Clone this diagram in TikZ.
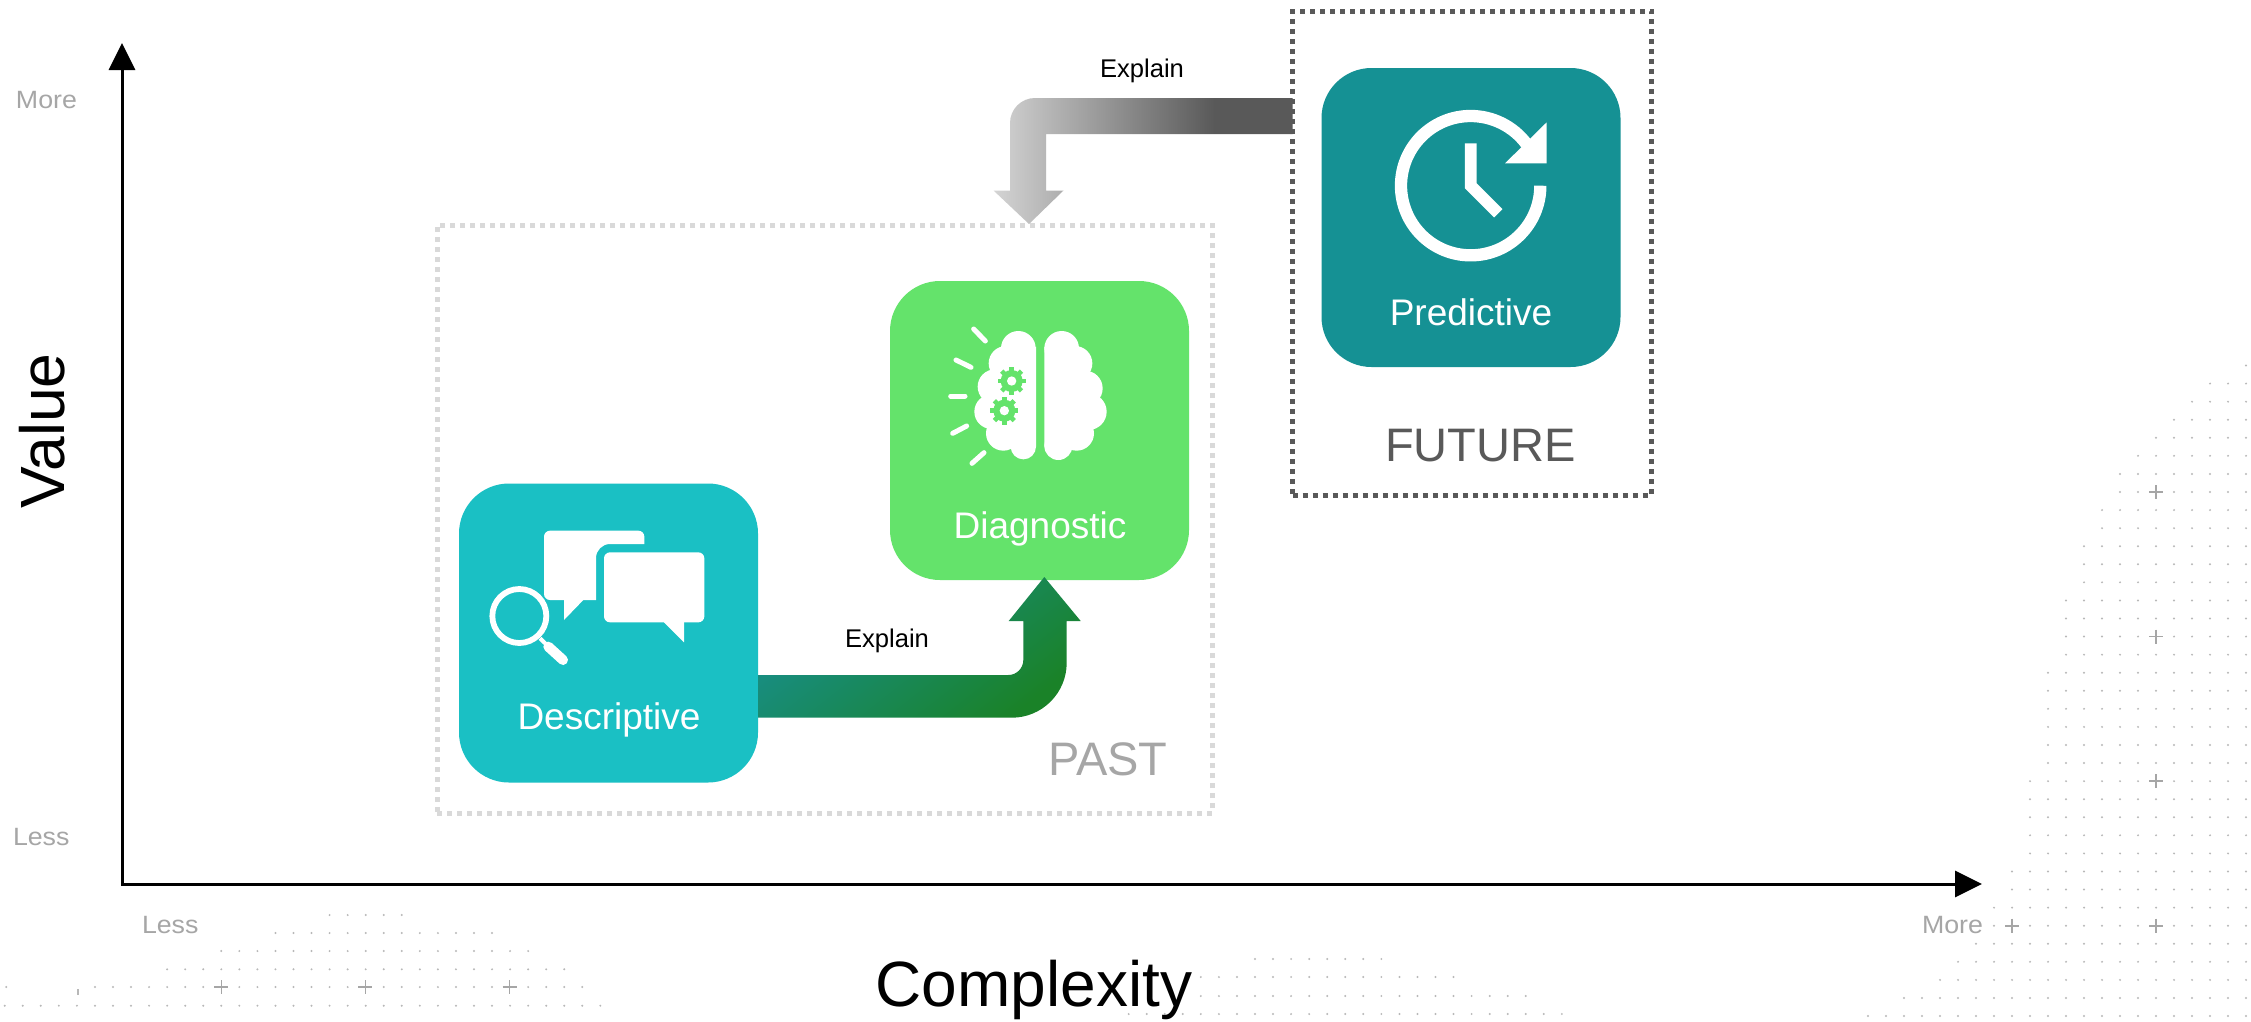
\documentclass[tikz,border=0pt]{standalone}
\usepackage{fontspec}
\setmainfont{Liberation Sans}
\usetikzlibrary{arrows.meta,calc}
\definecolor{descc}{HTML}{1AC0C4}
\definecolor{diagc}{HTML}{64E36B}
\definecolor{predc}{HTML}{159194}
\definecolor{lightg}{HTML}{A6A6A6}
\definecolor{pastd}{HTML}{D9D9D9}
\definecolor{futd}{HTML}{595959}
\definecolor{dotc}{HTML}{B8B8B8}
\definecolor{tealA}{HTML}{178F8F}
\definecolor{greenB}{HTML}{1A8228}
\definecolor{grayA}{HTML}{D4D4D4}
\definecolor{grayB}{HTML}{595959}
\pgfdeclarehorizontalshading{greenband}{100bp}{color(0bp)=(tealA); color(25bp)=(tealA); color(75bp)=(greenB); color(100bp)=(greenB)}
\pgfdeclarehorizontalshading{grayband}{100bp}{color(0bp)=(grayA); color(25bp)=(grayA); color(62bp)=(grayB); color(100bp)=(grayB)}
\newcommand\fsz[1]{\fontsize{#1}{#1}\selectfont}
\newcommand\gearicon[2]{%
  \foreach \a in {0,45,90,135}{\fill[diagc,rotate around={\a:(#1,#2)}] (#1-7,#2-42) rectangle (#1+7,#2+42);}
  \fill[diagc] (#1,#2) circle[radius=33pt];
  \fill[white] (#1,#2) circle[radius=14pt];}
\tikzset{
  x=1pt,y=-1pt,
  tile/.style={draw=none,minimum width=299pt,minimum height=299pt,inner sep=0pt,outer sep=0pt,rounded corners=50pt},
  tiletext/.style={text=white,anchor=base,inner sep=0pt,outer sep=0pt,font=\fsz{37}},
  zone/.style={minimum width=#1,inner sep=0pt,outer sep=0pt,line width=5pt,dash pattern=on 5pt off 5pt},
  axis/.style={line width=3pt,{Triangle[length=27pt,width=26pt]}-{Triangle[length=27pt,width=26pt]}},
  small/.style={text=lightg,inner sep=0pt,outer sep=0pt,font=\fsz{25},xscale=1.07},
  explain/.style={text=black,anchor=base,inner sep=0pt,outer sep=0pt,font=\fsz{25.6}},
  bigtxt/.style={text=black,inner sep=0pt,outer sep=0pt,font=\fsz{62.5}},
  dot/.style={fill=dotc},
  crossmark/.style={draw=lightg,line width=1.6pt},
  ray/.style={draw=white,line width=5pt,line cap=round},
}
\newcommand\dotat[2]{\fill[dot] (#1,#2) circle[radius=1.1pt];}
\newcommand\crossat[2]{\draw[crossmark] (#1-7,#2) -- (#1+7,#2) (#1,#2-7) -- (#1,#2+7);}
\begin{document}
\begin{tikzpicture}
\useasboundingbox (0,0) rectangle (2251,1021);
\fill[white] (0,0) rectangle (2251,1021);
% ---- dot fields
\foreach \m/\k in {-7/5,-6/3,-5/2,-4/1,-3/0,-2/-1,-1/-2,0/-2,1/-3,2/-3,3/-4,4/-4,5/-4,6/-5,7/-5,8/-5,9/-5,10/-6,11/-6,12/-6,13/-6,14/-6,15/-6,16/-7,17/-7,18/-7,19/-7,20/-7,21/-8,22/-8,23/-9,24/-9,25/-10,26/-11,27/-12,28/-14,29/-16}{
  \foreach \c in {\k,...,5}{\dotat{2156+18*\c}{492+18.07*\m}}}
\foreach \yy in {492,636.6,781.2,925.7}{\crossat{2156}{\yy}}
\crossat{2012}{925.7}
\foreach \yy/\a/\b in {915/6/10,933/3/15,951/0/17,969.3/-3/19,987/-7/20,1005.7/-12/21}{
  \foreach \c in {\a,...,\b}{\dotat{221.3+18.05*\c}{\yy}}}
\dotat{6.2}{987}
\draw[dotc,line width=1.2pt] (78,989) -- (78,995);
\foreach \xx in {221.3,365.4,509.6}{\crossat{\xx}{987}}
\foreach \yy/\a/\b in {959/0/7,977/-3/11,996/-3/15,1014/-7/17}{
  \foreach \c in {\a,...,\b}{\dotat{1255+18.05*\c}{\yy}}}
% ---- axes
\coordinate (origin) at (122,884);
\coordinate (xend) at (1982,884);
\coordinate (yend) at (122,43);
\draw[axis] (yend) -- (origin) -- (xend);
\node[small,anchor=base west] (lessx) at (142,933) {Less};
\node[small,anchor=base east] (morex) at (1983,933) {More};
\node[small,anchor=west] (morey) at (16,100) {More};
\node[small,anchor=west] (lessy) at (13,837) {Less};
\node[bigtxt,rotate=90] (valuelab) at (42,431) {Value};
\node[bigtxt,anchor=base,font=\fsz{64}] (complab) at (1034,1006) {Complexity};
% ---- zones and tiles
\node[zone=775pt,draw=pastd,minimum height=588pt] (pastbox) at (824.5,519) {};
\node[tile,fill=descc] (desc) at (608.5,633) {};
\node[tile,fill=diagc] (diag) at (1039.5,430.5) {};
\node[tile,fill=predc] (pred) at (1471,217.5) {};
\node[tiletext] (desclab) at (609,729) {Descriptive};
\node[tiletext] (diaglab) at (1040,538) {Diagnostic};
\node[tiletext] (predlab) at (1471,325) {Predictive};
\node[anchor=base,text=lightg,inner sep=0pt,font=\fsz{47}] (pastlab) at (1108,775) {PAST};
% ---- block arrow 1
\coordinate (a1a) at ($(desc.east)+(0,42)$);
\coordinate (a1b) at ($(desc.east)+(0,84.7)$);
\coordinate (a1t) at ($(diag.south)+(4.8,-3)$);
\shade[shading=greenband,shading angle=-52] (a1a) -- (1008.3,675) arc[start angle=-90,end angle=0,radius=15pt] -- (1023.3,621) -- (1008.7,621) -- (a1t) -- (1080.7,621) -- (1066.7,621) -- (1066.7,662.7) arc[start angle=0,end angle=-90,radius=55pt] -- (a1b) -- cycle;
% ---- block arrow 2
\node[zone=359pt,draw=futd,minimum height=484pt] (futbox) at (1472,253) {};
\coordinate (a2a) at ($(futbox.west)+(0,-155)$);
\coordinate (a2b) at ($(futbox.west)+(0,-119)$);
\coordinate (a2t) at ($(pastbox.north)+(204.5,-1)$);
\shade[shading=grayband] (a2a) -- (1035,98) arc[start angle=90,end angle=180,radius=25pt] -- (1010,190.5) -- (993.5,190.5) -- (a2t) -- (1063.5,190.5) -- (1046,190.5) -- (1046,134) -- (a2b) -- cycle;
\node[anchor=base,text=futd,inner sep=0pt,font=\fsz{47}] (futlab) at (1480.5,461.7) {FUTURE};
\node[explain] (ex1) at (887,647) {Explain};
\node[explain] (ex2) at (1142,77) {Explain};
% ---- descriptive icon
\begin{scope}[shift={(460,490)},scale=0.33333]
  \fill[white] (252,140) arc[start angle=180,end angle=90,radius=18pt] -- (535,122) arc[start angle=90,end angle=0,radius=18pt] -- (553,162) -- (450,162) arc[start angle=90,end angle=180,radius=42pt] -- (408,330) -- (370,330) -- (312,390) -- (312,330) -- (270,330) arc[start angle=270,end angle=180,radius=18pt] -- cycle;
  \fill[white,rounded corners=6pt] (432,187) rectangle (733,397);
  \fill[white] (612,397) -- (672,457) -- (672,390) -- (612,390) -- cycle;
  \draw[white,line width=5.8pt] (178,378) circle[radius=81pt];
  \draw[white,line width=4pt] (240,445) -- (268,472);
  \draw[white,line width=10pt,line cap=round] (265,470) -- (309,510);
\end{scope}
% ---- brain icon
\begin{scope}[shift={(880,280)},scale=0.33333]
  \foreach \xx/\yy/\r in {545/205/52,585/250/52,615/325/53,625/395/55,590/460/52,535/498/42,415/205/52,378/250/52,345/320/52,335/395/52,370/460/52,430/500/38}{
    \fill[white] (\xx,\yy) circle[radius=\r pt];}
  \fill[white] (493,200) -- (493,500) -- (600,490) -- (640,380) -- (600,230) -- cycle;
  \fill[white] (468,200) -- (468,500) -- (360,490) -- (330,380) -- (370,230) -- cycle;
  \gearicon{395}{303}
  \gearicon{373}{392}
  \draw[ray] (281,147) -- (316,183);
  \draw[ray] (228,240) -- (273,262);
  \draw[ray] (212,348) -- (255,348);
  \draw[ray] (218,460) -- (260,438);
  \draw[ray] (276,550) -- (312,518);
\end{scope}
% ---- clock icon
\begin{scope}[shift={(1340,90)},scale=0.33333]
  \draw[white,line width=12.3pt] (601,287) arc[start angle=0,end angle=-323,radius=209pt];
  \fill[white] (620,97) -- (620,220) -- (495,220) -- cycle;
  \draw[white,line width=11.7pt,miter limit=10] (392,160) -- (392,287) -- (475,370);
\end{scope}
\end{tikzpicture}
\end{document}
